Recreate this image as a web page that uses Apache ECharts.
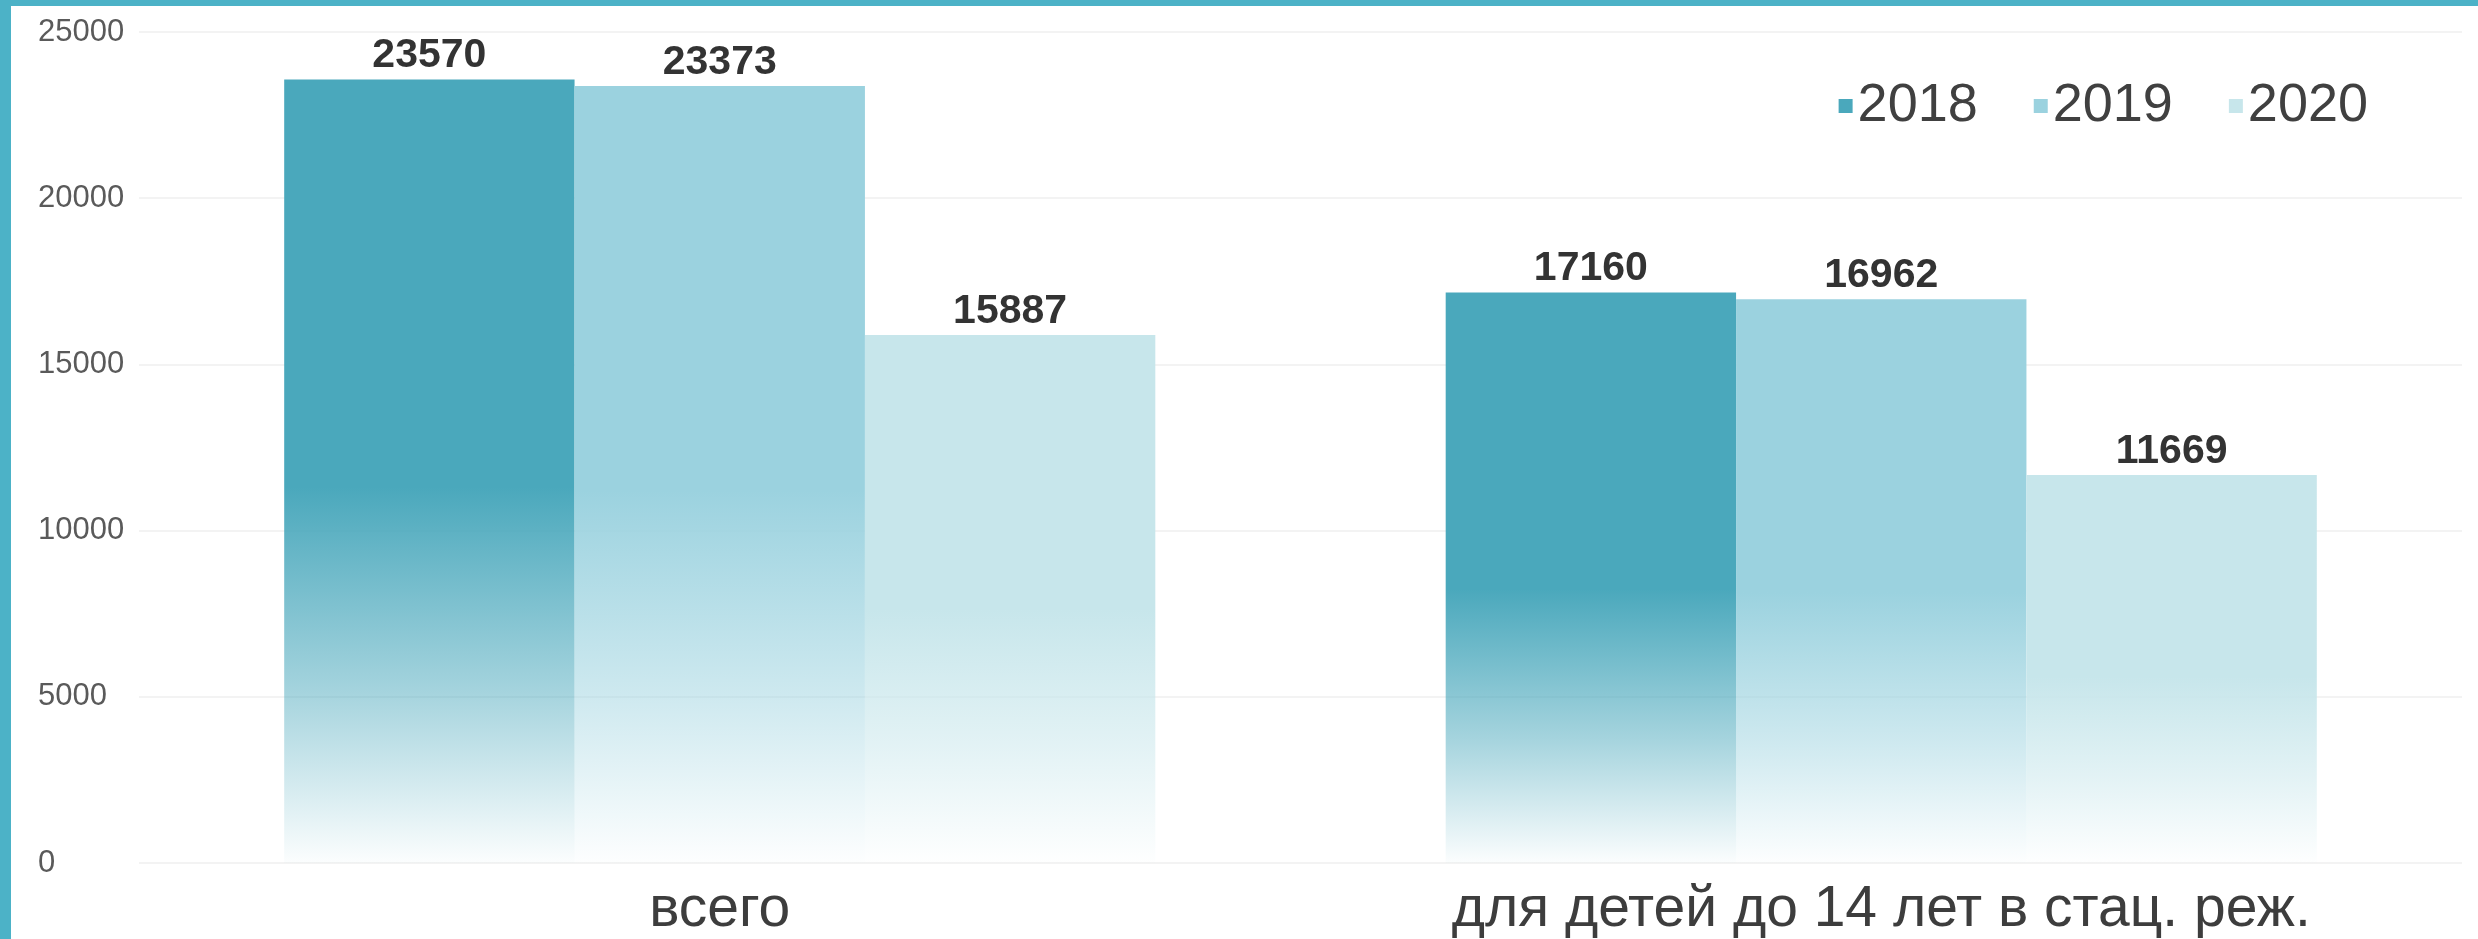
<!DOCTYPE html>
<html>
<head>
<meta charset="utf-8">
<script src="https://cdn.jsdelivr.net/npm/echarts@6/dist/echarts.min.js"></script>
<style>
html,body{margin:0;padding:0;background:#fff;}
#c{width:2478px;height:939px;}
</style>
</head>
<body>
<div id="c"></div>
<script>
const categories = ['всего', 'для детей до 14 лет в стац. реж.'];
const seriesNames = ['2018', '2019', '2020'];
const values2018 = [23570, 17160];
const values2019 = [23373, 16962];
const values2020 = [15887, 11669];
const yTicks = [0, 5000, 10000, 15000, 20000, 25000];

const colors = ['#4aa8bc', '#9bd2df', '#c7e6eb'];
const rgb = ['74,168,188', '155,210,223', '199,230,235'];
const FONT = '"Liberation Sans", Arial, sans-serif';

function grad(i) {
  return {
    type: 'linear', x: 0, y: 0, x2: 0, y2: 1,
    colorStops: [
      { offset: 0, color: 'rgba(' + rgb[i] + ',1)' },
      { offset: 0.52, color: 'rgba(' + rgb[i] + ',1)' },
      { offset: 0.78, color: 'rgba(' + rgb[i] + ',0.5)' },
      { offset: 1, color: 'rgba(' + rgb[i] + ',0.02)' }
    ]
  };
}

const allValues = [values2018, values2019, values2020];
const chart = echarts.init(document.getElementById('c'), null, { renderer: 'canvas' });
chart.setOption({
  animation: false,
  backgroundColor: '#fff',
  graphic: [
    { type: 'rect', left: 0, top: 0, shape: { width: 11, height: 939 }, style: { fill: '#4cb2c7' }, z: 100 },
    { type: 'rect', left: 0, top: 0, shape: { width: 2478, height: 6 }, style: { fill: '#4cb2c7' }, z: 100 }
  ],
  legend: {
    data: seriesNames.map((n, i) => ({ name: n, itemStyle: { color: colors[i] } })),
    right: 105,
    top: 74,
    itemWidth: 14,
    itemHeight: 14,
    itemGap: 56,
    icon: 'rect',
    textStyle: { fontFamily: FONT, fontSize: 54, color: '#404040' }
  },
  grid: { left: 139, right: 16, top: 32, bottom: 76 },
  xAxis: {
    type: 'category',
    data: categories,
    axisLine: { show: false },
    axisTick: { show: false },
    axisLabel: { fontFamily: FONT, fontSize: 57, color: '#3d3d3d', margin: 19 }
  },
  yAxis: {
    type: 'value',
    min: yTicks[0],
    max: yTicks[yTicks.length - 1],
    interval: yTicks[1] - yTicks[0],
    axisLine: { show: false },
    axisTick: { show: false },
    axisLabel: {
      fontFamily: FONT, fontSize: 31, color: '#5a5a5a', align: 'left', margin: 101,
      formatter: v => String(v)
    },
    splitLine: { lineStyle: { color: '#f3f3f3', width: 2 } }
  },
  series: seriesNames.map((n, i) => ({
    name: n,
    type: 'bar',
    data: allValues[i],
    barGap: '0%',
    barCategoryGap: '25%',
    itemStyle: { color: grad(i) },
    label: {
      show: true,
      position: 'top',
      distance: 3,
      fontFamily: FONT,
      fontSize: 41,
      fontWeight: 'bold',
      color: '#333'
    }
  }))
});
</script>
</body>
</html>
